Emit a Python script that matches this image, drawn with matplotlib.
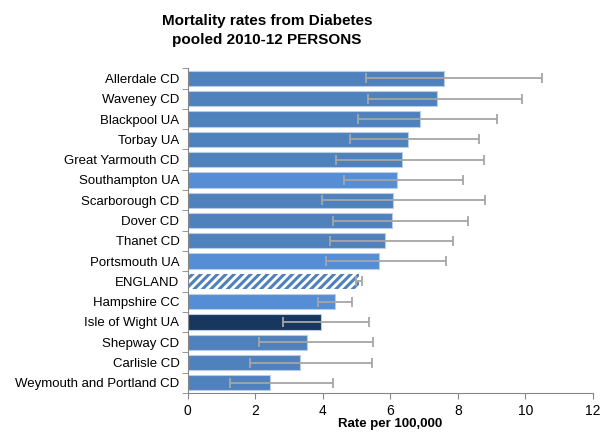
import numpy as np
import matplotlib
matplotlib.use('Agg')
import matplotlib.pyplot as plt

# dados
areas = ['Allerdale CD', 'Waveney CD', 'Blackpool UA', 'Torbay UA', 'Great Yarmouth CD',
         'Southampton UA', 'Scarborough CD', 'Dover CD', 'Thanet CD', 'Portsmouth UA',
         'ENGLAND', 'Hampshire CC', 'Isle of Wight UA', 'Shepway CD', 'Carlisle CD',
         'Weymouth and Portland CD']
rates = [7.59, 7.39, 6.88, 6.53, 6.34, 6.21, 6.08, 6.06, 5.85, 5.67, 5.08, 4.37, 3.95, 3.53, 3.32, 2.44]
lower = [5.29, 5.35, 5.03, 4.81, 4.39, 4.62, 3.98, 4.31, 4.22, 4.09, 4.98, 3.86, 2.82, 2.10, 1.83, 1.24]
upper = [10.49, 9.89, 9.17, 8.63, 8.78, 8.16, 8.80, 8.30, 7.86, 7.66, 5.16, 4.86, 5.38, 5.50, 5.45, 4.30]

cores = {'Southampton UA': '#558ed5', 'Portsmouth UA': '#558ed5', 'Hampshire CC': '#558ed5',
         'Isle of Wight UA': '#17375e'}

plt.rcParams['font.family'] = ['Liberation Sans', 'DejaVu Sans']
plt.rcParams['hatch.linewidth'] = 2.2

fig = plt.figure(figsize=(6, 4.37), dpi=100)
ax = fig.add_axes([0.313, 0.1007, 0.675, 0.743])

y = np.arange(len(areas))
for i, nome in enumerate(areas):
    if nome == 'ENGLAND':
        ax.barh(i, rates[i], height=0.75, color='white', edgecolor='#4f81bd',
                hatch='////', linewidth=0)
    else:
        ax.barh(i, rates[i], height=0.75, color=cores.get(nome, '#4f81bd'),
                edgecolor='#b9cde5', linewidth=0.8)

err = [np.array(rates) - np.array(lower), np.array(upper) - np.array(rates)]
ax.errorbar(rates, y, xerr=err, fmt='none', ecolor='#a6a6a6', elinewidth=1.3,
            capsize=3.5, capthick=1.3)

ax.set_ylim(len(areas) - 0.5, -0.5)
ax.set_xlim(0, 12)
ax.set_xticks(range(0, 13, 2))
ax.set_yticks(y)
ax.set_yticklabels(areas, fontsize=9.5)
ax.set_yticks(np.arange(-0.5, len(areas), 1), minor=True)
ax.tick_params(axis='y', which='major', length=0, pad=6)
ax.tick_params(axis='y', which='minor', length=4, color='#868686')
ax.tick_params(axis='x', length=4, color='#868686', labelsize=10, pad=4)
for s in ['top', 'right']:
    ax.spines[s].set_visible(False)
for s in ['left', 'bottom']:
    ax.spines[s].set_color('#868686')

# label do eixo x posicionado a mao para nao cortar
fig.text(0.65, 0.015, 'Rate per 100,000', ha='center', va='bottom',
         fontsize=9.5, fontweight='bold')
fig.text(0.445, 0.93, 'Mortality rates from Diabetes\npooled 2010-12 PERSONS',
         ha='center', va='center', fontsize=11, fontweight='bold', linespacing=1.4)

plt.savefig('out.png', dpi=100)
